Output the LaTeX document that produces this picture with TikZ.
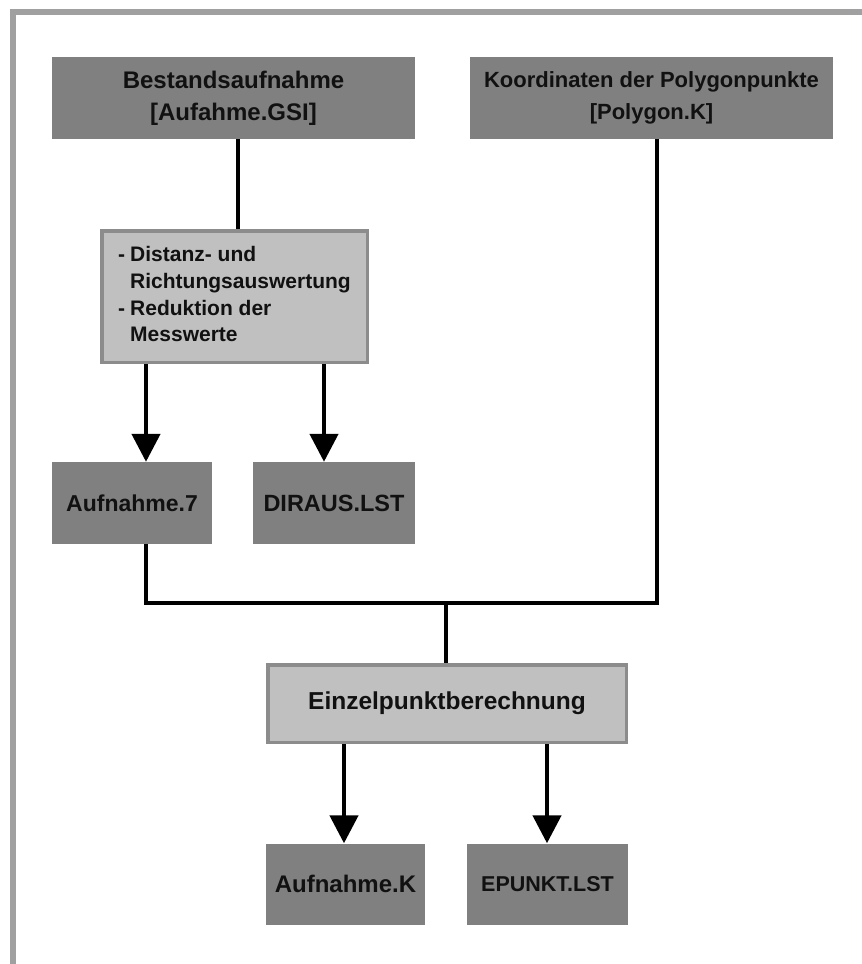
\documentclass[tikz,border=0pt]{standalone}
\usepackage{fontspec}
\setmainfont{Liberation Sans}
\usetikzlibrary{arrows.meta}
\definecolor{darkbox}{HTML}{808080}
\definecolor{lightbox}{HTML}{C0C0C0}
\definecolor{lightedge}{HTML}{8C8C8C}
\definecolor{framegrey}{HTML}{A0A0A0}
\definecolor{txt}{HTML}{111111}
\tikzset{
  filebox/.style={rectangle, fill=darkbox, inner sep=0pt, align=center, text=txt},
  procbox/.style={rectangle, fill=lightbox, draw=lightedge, line width=3.5pt, inner sep=0pt, align=center, text=txt},
  conn/.style={line width=4.5pt, black},
  arr/.style={line width=4.5pt, black, -{Triangle[width=28pt,length=28pt]}},
  fs/.style={font=\fontsize{#1}{31}\selectfont\bfseries}
}
\begin{document}
\begin{tikzpicture}[x=1pt,y=-1pt]
\useasboundingbox (0,0) rectangle (862,964);
\fill[white] (0,0) rectangle (862,964);
% frame
\fill[framegrey] (10,9) rectangle (862,15);
\fill[framegrey] (10,9) rectangle (16,964);

\node[filebox, fs=24, minimum width=363pt, minimum height=82pt] (b1) at (233.5,98) {Bestandsaufnahme\\[1pt][Aufahme.GSI]};
\node[filebox, fs=22, minimum width=363pt, minimum height=82pt] (b2) at (651.5,98) {Koordinaten der Polygonpunkte\\[1pt][Polygon.K]};
\node[procbox, minimum width=265.5pt, minimum height=131.5pt] (proc) at (234.5,296.5)
  {\fontsize{21}{26.7}\selectfont\bfseries
   \begin{tabular}{@{}l@{\hspace{5pt}}l@{}}
   -&Distanz- und\\
    &Richtungsauswertung\\
   -&Reduktion der\\
    &Messwerte
   \end{tabular}};
\node[filebox, fs=23, minimum width=160pt, minimum height=82pt] (a7) at (132,503) {Aufnahme.7};
\node[filebox, fs=23.5, minimum width=162pt, minimum height=82pt] (dir) at (334,503) {DIRAUS.LST};
\node[procbox, fs=24.5, minimum width=358.5pt, minimum height=77.5pt] (einz) at (447,703.5) {Einzelpunktberechnung};
\node[filebox, fs=24, minimum width=159pt, minimum height=81pt] (ak) at (345.5,884) {Aufnahme.K};
\node[filebox, fs=21.5, minimum width=161pt, minimum height=81pt] (ep) at (547.5,884) {EPUNKT.LST};

% guide coordinates
\coordinate (xb1) at (238,0);
\coordinate (xl) at (146,0);
\coordinate (xd) at (324,0);
\coordinate (xr) at (657,0);
\coordinate (xm) at (446,0);
\coordinate (hy) at (0,603);
\coordinate (xk) at (344,0);
\coordinate (xe) at (547,0);

\draw[conn] (b1.south -| xb1) -- (proc.north -| xb1);
\draw[arr] (proc.south -| xl) -- (a7.north -| xl);
\draw[arr] (proc.south -| xd) -- (dir.north -| xd);
\draw[conn] (a7.south -| xl) -- (xl |- hy) -- (xr |- hy) -- (b2.south -| xr);
\draw[conn] (xm |- hy) -- (einz.north -| xm);
\draw[arr] (einz.south -| xk) -- (ak.north -| xk);
\draw[arr] (einz.south -| xe) -- (ep.north -| xe);
\end{tikzpicture}
\end{document}
